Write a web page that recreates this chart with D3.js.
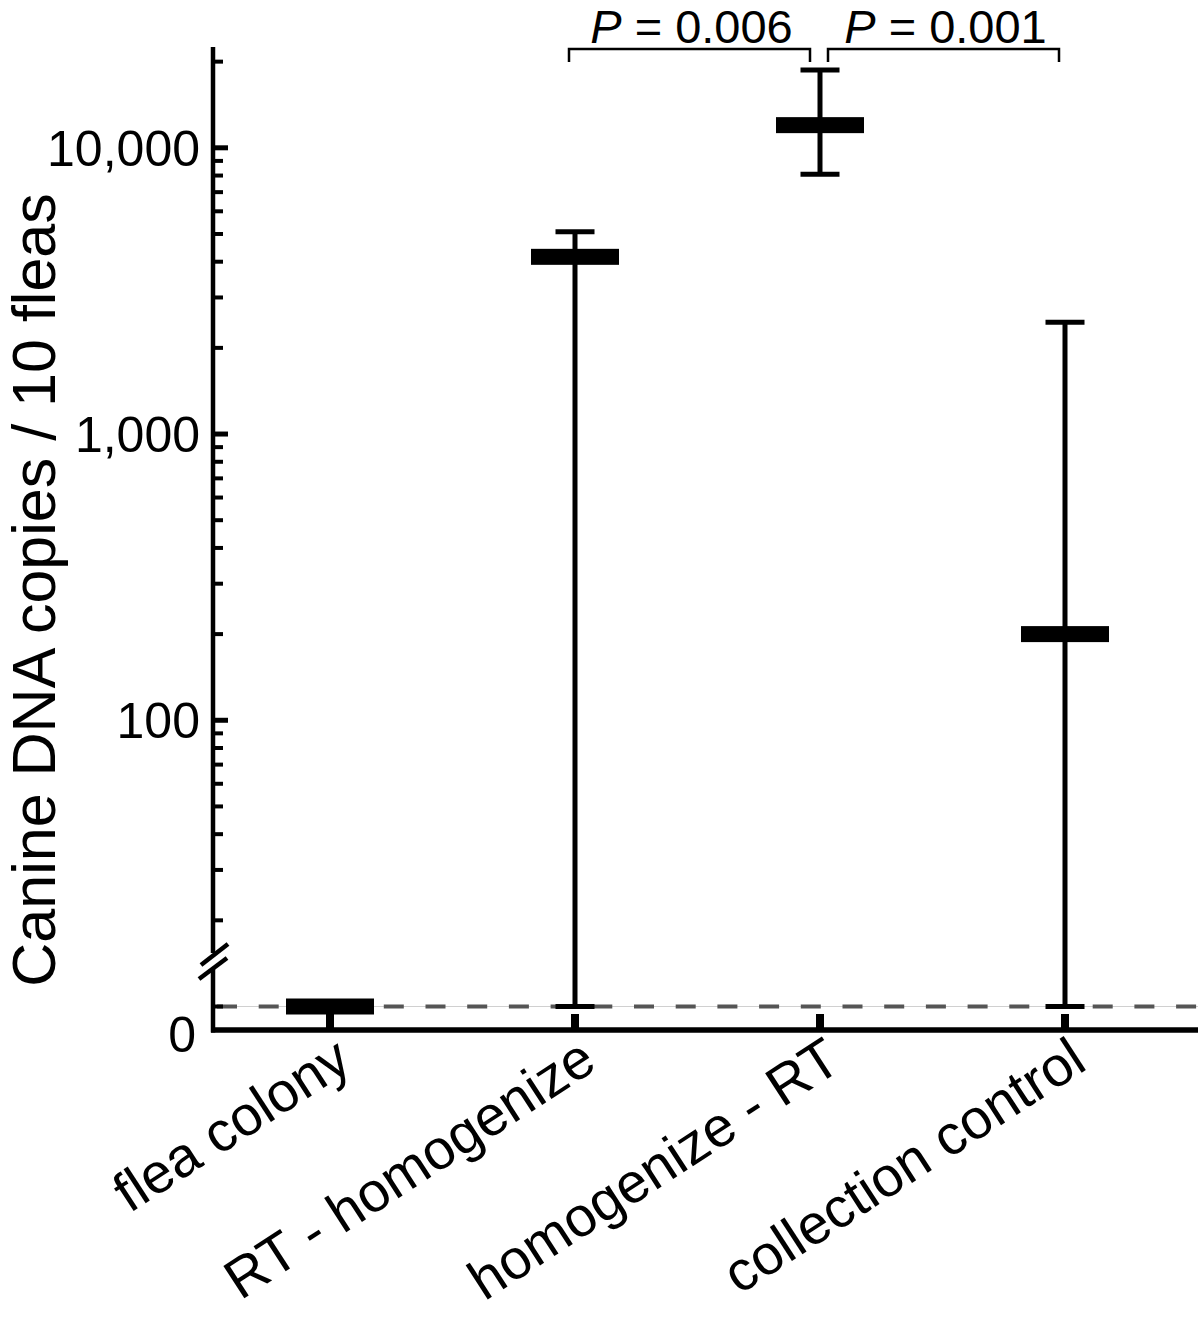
<!DOCTYPE html>
<html>
<head>
<meta charset="utf-8">
<script src="https://cdn.jsdelivr.net/npm/d3@7"></script>
<style>
  html, body { margin: 0; padding: 0; background: #fff; }
  svg { display: block; font-family: "Liberation Sans", Arial, sans-serif; }
</style>
</head>
<body>
<svg id="chart" width="1200" height="1326"></svg>
<script>
// ---- data ----
const categories = ["flea colony", "RT - homogenize", "homogenize - RT", "collection control"];
const medians = [10, 4160, 12000, 200];
const upperValues = [10, 5090, 18700, 2460];
const lowerValues = [10, 10, 8080, 10];
const detectionLimit = 10;
const majorTicks = [100, 1000, 10000];
const majorTickLabels = ["100", "1,000", "10,000"];
const minorTicks = [10, 20, 30, 40, 50, 60, 70, 80, 90,
                    200, 300, 400, 500, 600, 700, 800, 900,
                    2000, 3000, 4000, 5000, 6000, 7000, 8000, 9000, 20000];
const zeroLabel = "0";
const axisTopValue = 22500;
const comparisons = [
  { from: 1, to: 2, p: "0.006" },
  { from: 2, to: 3, p: "0.001" }
];
const yLabel = "Canine DNA copies / 10 fleas";

// ---- layout ----
const svg = d3.select("#chart");
const axisX = 213;
const baseY = 1030;
const xRight = 1198;

const x = d3.scalePoint().domain(categories).range([330, 1065]);
const y = d3.scaleLog().domain([detectionLimit, axisTopValue]).range([1006.5, 47]);

// dashed detection-limit line
svg.append("line")
  .attr("x1", axisX).attr("x2", xRight)
  .attr("y1", y(detectionLimit)).attr("y2", y(detectionLimit))
  .attr("stroke", "#d0d0d0").attr("stroke-width", 1);
svg.append("line")
  .attr("x1", axisX + 4).attr("x2", xRight)
  .attr("y1", y(detectionLimit)).attr("y2", y(detectionLimit))
  .attr("stroke", "#555").attr("stroke-width", 4)
  .attr("stroke-dasharray", "20,21.7");

// y axis line
svg.append("line")
  .attr("x1", axisX).attr("x2", axisX)
  .attr("y1", y(axisTopValue)).attr("y2", baseY + 2.5)
  .attr("stroke", "#000").attr("stroke-width", 4.5);

// minor ticks
svg.selectAll(".minor").data(minorTicks).enter().append("line")
  .attr("x1", axisX).attr("x2", axisX + 10)
  .attr("y1", d => y(d)).attr("y2", d => y(d))
  .attr("stroke", "#000").attr("stroke-width", 4);

// major ticks
svg.selectAll(".major").data(majorTicks).enter().append("line")
  .attr("x1", axisX).attr("x2", axisX + 15)
  .attr("y1", d => y(d)).attr("y2", d => y(d))
  .attr("stroke", "#000").attr("stroke-width", 5);

svg.selectAll(".majorLabel").data(majorTicks).enter().append("text")
  .attr("x", axisX - 13)
  .attr("y", d => y(d))
  .attr("dy", "0.36em")
  .attr("text-anchor", "end")
  .attr("font-size", 50)
  .text((d, i) => majorTickLabels[i]);

svg.append("text")
  .attr("x", axisX - 17).attr("y", baseY + 4)
  .attr("dy", "0.36em")
  .attr("text-anchor", "end")
  .attr("font-size", 50)
  .text(zeroLabel);

// axis break
svg.append("rect")
  .attr("x", axisX - 5).attr("y", 953).attr("width", 10).attr("height", 16)
  .attr("fill", "#fff");
svg.append("line")
  .attr("x1", 201).attr("y1", 965).attr("x2", 228).attr("y2", 944)
  .attr("stroke", "#000").attr("stroke-width", 4.5);
svg.append("line")
  .attr("x1", 199).attr("y1", 979).attr("x2", 227).attr("y2", 958)
  .attr("stroke", "#000").attr("stroke-width", 4.5);

// x axis
svg.append("line")
  .attr("x1", axisX - 2).attr("x2", xRight)
  .attr("y1", baseY).attr("y2", baseY)
  .attr("stroke", "#000").attr("stroke-width", 5.5);
svg.selectAll(".xtick").data(categories).enter().append("line")
  .attr("x1", d => x(d)).attr("x2", d => x(d))
  .attr("y1", baseY).attr("y2", baseY - 16)
  .attr("stroke", "#000").attr("stroke-width", 8);

// x labels
svg.selectAll(".xlabel").data(categories).enter().append("text")
  .attr("transform", d => `translate(${x(d) + 24},${1068}) rotate(-33)`)
  .attr("text-anchor", "end")
  .attr("font-size", 56)
  .text(d => d);

// y label
svg.append("text")
  .attr("transform", `translate(55,590) rotate(-90)`)
  .attr("text-anchor", "middle")
  .attr("font-size", 61)
  .text(yLabel);

// error bars
const groups = categories.map((c, i) => ({ c, med: medians[i], hi: upperValues[i], lo: lowerValues[i] }));
svg.selectAll(".whisker").data(groups).enter().append("line")
  .attr("x1", d => x(d.c)).attr("x2", d => x(d.c))
  .attr("y1", d => y(d.hi)).attr("y2", d => y(d.lo))
  .attr("stroke", "#000").attr("stroke-width", 5);
const caps = [];
groups.forEach(g => { caps.push({ c: g.c, v: g.hi }); caps.push({ c: g.c, v: g.lo }); });
svg.selectAll(".cap").data(caps).enter().append("line")
  .attr("x1", d => x(d.c) - 19.5).attr("x2", d => x(d.c) + 19.5)
  .attr("y1", d => y(d.v)).attr("y2", d => y(d.v))
  .attr("stroke", "#000").attr("stroke-width", 5);
svg.selectAll(".median").data(groups).enter().append("rect")
  .attr("x", d => x(d.c) - 44).attr("width", 88)
  .attr("y", d => y(d.med) - 8).attr("height", 16)
  .attr("fill", "#000");

// significance brackets
const bTop = 49, bLeg = 62;
comparisons.forEach((cmp, i) => {
  const x1 = x(categories[cmp.from]) + (i === 0 ? -6 : 8);
  const x2 = x(categories[cmp.to]) + (i === 0 ? -10 : -6);
  svg.append("path")
    .attr("d", `M${x1},${bLeg}V${bTop}H${x2}V${bLeg}`)
    .attr("fill", "none").attr("stroke", "#000").attr("stroke-width", 2.5);
  const t = svg.append("text")
    .attr("x", (x1 + x2) / 2 + 2).attr("y", 43)
    .attr("text-anchor", "middle")
    .attr("font-size", 47);
  t.append("tspan").attr("font-style", "italic").text("P");
  t.append("tspan").text(" = " + cmp.p);
});
</script>
</body>
</html>
